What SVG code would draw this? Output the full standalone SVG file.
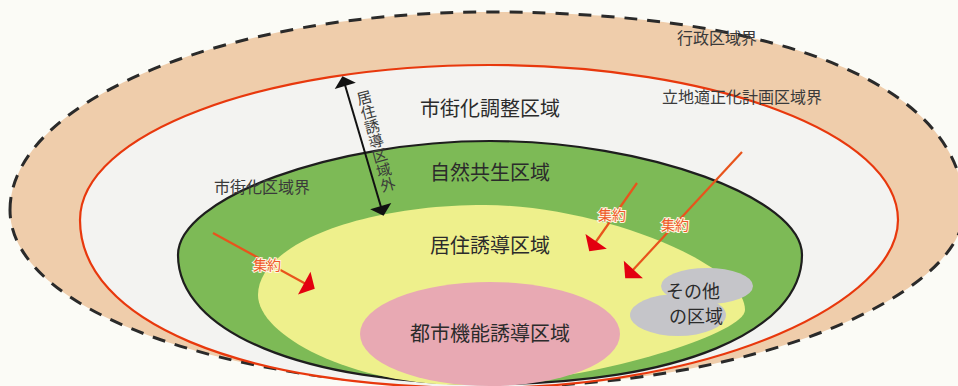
<svg xmlns="http://www.w3.org/2000/svg" width="958" height="386" viewBox="0 0 958 386">
<defs>
<style>
.lbl{font-family:"Noto Sans CJK JP","Noto Sans",sans-serif;fill:#2b2b2b;text-anchor:middle;}
.big{font-size:20px;}
.small{font-size:16px;fill:#3a3a3a;}
.agg{font-family:"Noto Sans CJK JP","Noto Sans",sans-serif;font-size:14px;fill:#ee5a28;text-anchor:middle;stroke:#fff6e0;stroke-width:2;paint-order:stroke;}
.redline{fill:none;stroke:#e8541c;stroke-width:2.2;}
</style>
<marker id="redHead" viewBox="-3 -14 14 28" refX="0" refY="0" markerWidth="14" markerHeight="28" markerUnits="userSpaceOnUse" orient="auto">
<path d="M-2,-13 L10,0 L-2,13 Z" fill="#e3000f"/>
</marker>
<marker id="blackHead" viewBox="-2 -12 12 24" refX="0" refY="0" markerWidth="12" markerHeight="24" markerUnits="userSpaceOnUse" orient="auto-start-reverse">
<path d="M-1,-11 L9,0 L-1,11 Z" fill="#111"/>
</marker>
</defs>
<rect x="0" y="0" width="958" height="386" fill="#fbfbf6"/>

<g id="admin-area">
<path d="M10,210 C10,101 225,12 490,12 C784,12 964,87 964,210 C964,295 755,387 490,387 C221,387 10,309 10,210 Z" fill="#efcdab" stroke="#2a2a2a" stroke-width="3" stroke-dasharray="13 10"/>
<text class="lbl small" x="717" y="44">行政区域界</text>
</g>

<g id="plan-area">
<path d="M80,220 C80,134 263,65 489,65 C715,65 898,134 898,220 C898,300 720,388 480,388 C240,388 80,321 80,220 Z" fill="#f3f3f1" stroke="#e8380d" stroke-width="2.2"/>
<text class="lbl small" x="742" y="103">立地適正化計画区域界</text>
<text class="lbl big" x="490" y="115.6">市街化調整区域</text>
</g>

<g id="urbanization-area">
<path d="M178,255 C178,198 334,141 490,141 C646,141 802,198 802,255 C802,332 677,384 490,384 C303,384 178,332 178,255 Z" fill="#7dba56" stroke="#1e1e1e" stroke-width="2.2"/>
<text class="lbl small" x="262" y="193">市街化区域界</text>
<text class="lbl big" x="490" y="179.6">自然共生区域</text>
</g>

<g id="residential-area">
<path d="M258,295 C258,245 360,205 485,205 C597,205 745,263 745,310 C745,335 580,385 465,385 C350,385 258,335 258,295 Z" fill="#eef08c"/>
<text class="lbl big" x="490" y="252.6">居住誘導区域</text>
</g>

<g id="urban-function-area">
<ellipse cx="490" cy="334" rx="130" ry="52" fill="#e8a9b3"/>
<text class="lbl big" x="490" y="340.6">都市機能誘導区域</text>
</g>

<g id="other-area">
<ellipse cx="707" cy="286" rx="46" ry="18" fill="#c5c5c9"/>
<ellipse cx="678" cy="315" rx="48" ry="21" fill="#c5c5c9"/>
<text class="lbl" style="font-size:18px" x="693" y="298">その他</text>
<text class="lbl" style="font-size:18px" x="696" y="323">の区域</text>
</g>

<g id="connectors">
<line x1="345" y1="85" x2="381" y2="207" stroke="#111" stroke-width="2" marker-start="url(#blackHead)" marker-end="url(#blackHead)"/>
<text class="lbl" style="font-size:15px;writing-mode:vertical-rl;fill:#3a3a3a" transform="translate(376,141) rotate(-15)" x="0" y="0">居住誘導区域外</text>
<line class="redline" x1="213" y1="233" x2="306" y2="284" marker-end="url(#redHead)"/>
<line class="redline" x1="637" y1="183" x2="595" y2="243" marker-end="url(#redHead)"/>
<line class="redline" x1="742" y1="152" x2="632" y2="271" marker-end="url(#redHead)"/>
<text class="agg" x="267" y="270">集約</text>
<text class="agg" x="612" y="220">集約</text>
<text class="agg" x="675" y="230">集約</text>
</g>
</svg>
